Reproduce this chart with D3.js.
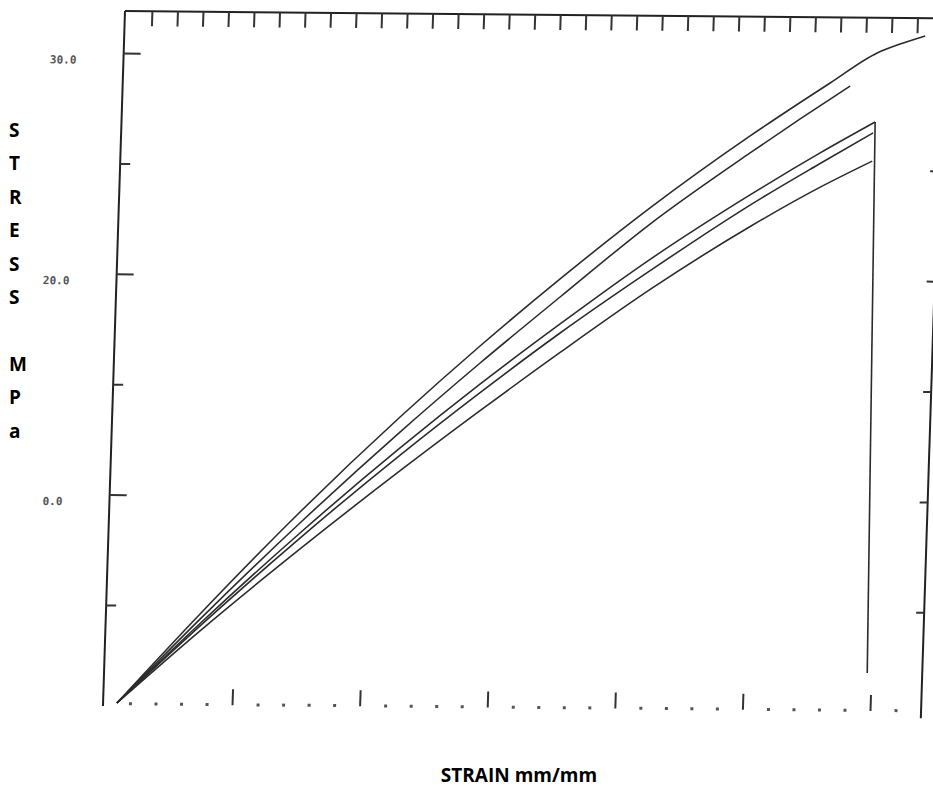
<!DOCTYPE html>
<html>
<head>
<meta charset="utf-8">
<script src="https://cdn.jsdelivr.net/npm/d3@7"></script>
<style>
  body { margin: 0; background: #fff; }
  svg { display: block; }
  .curve { fill: none; stroke: #2b2b2b; stroke-width: 1.6; }
  .frame { fill: none; stroke: #222; stroke-width: 2; }
  .title { font-family: "Open Sans", sans-serif; font-weight: bold; font-size: 19px; fill: #000; }
  .ylab { font-family: "DejaVu Sans Mono", monospace; font-weight: bold; font-size: 11px; fill: #555; }
</style>
</head>
<body>
<svg width="933" height="792"></svg>
<script>
// five stress-strain traces, strain in mm/mm, stress in MPa
var curveA = [[0.00098,0.57],[0.00727,4.63],[0.01485,9.29],[0.02245,13.63],[0.02854,16.88],[0.03465,19.95],
              [0.04152,23.20],[0.04918,26.50],[0.05532,28.93],[0.05893,30.31],[0.06070,30.72],[0.06265,31.10]];
var curveB = [[0.00098,0.57],[0.00728,4.40],[0.01487,8.79],[0.02248,12.95],[0.02859,16.11],[0.03469,19.13],
              [0.04156,22.47],[0.04922,25.73],[0.05306,27.29],[0.05690,28.80]];
var curveC = [[0.00098,0.57],[0.00729,4.20],[0.01490,8.34],[0.02253,12.23],[0.02863,15.15],[0.03476,17.91],
              [0.04165,20.87],[0.04932,23.83],[0.05471,25.76],[0.05894,27.18]];
var curveD = [[0.00098,0.57],[0.00730,4.09],[0.01491,8.11],[0.02255,11.91],[0.02866,14.77],[0.03478,17.50],
              [0.04168,20.36],[0.04935,23.37],[0.05473,25.28],[0.05881,26.69]];
var curveE = [[0.00098,0.57],[0.00731,3.87],[0.01494,7.62],[0.02259,11.20],[0.02870,13.95],[0.03483,16.62],
              [0.04173,19.51],[0.04941,22.40],[0.05480,24.21],[0.05881,25.41]];
var dropLine = [[0.05894,27.18],[0.05969,2.23]];   // pen drop where the lower three break

var majorStrain = [0.01, 0.02, 0.03, 0.04, 0.05, 0.06];
var minorStrain = d3.range(1, 32).map(i => i * 0.002);      // top ticks + bottom dots
var stressTicks = [5, 10, 15, 20, 25, 30];
var labelStress = [30, 20, 10];
var labelText = ["30.0", "20.0", "0.0"];                    // the "1" is missing on the scan
var yTitle = ["S", "T", "R", "E", "S", "S", "", "M", "P", "a"];
var xTitle = "STRAIN mm/mm";

var svg = d3.select("svg");

var x = d3.scaleLinear().domain([0, 0.064]).range([1.4, 818]);
var y = d3.scaleLinear().domain([0, 30]).range([704.4, 42]);

// the scanned sheet is a little sheared, so the whole frame is too
var plot = svg.append("g")
    .attr("transform", "matrix(1,0.009,-0.0317,1,125,11)");

// frame lines
plot.append("path").attr("class", "frame").attr("d", d3.line()([[0, 0], [x(0.064), 0]]));
plot.append("path").attr("class", "frame").attr("d", d3.line()([[0, 0], [0, 695]]));
plot.append("path").attr("class", "frame").attr("d", d3.line()([[x(0.064), 0], [x(0.064), 700]]));

// top ticks hang down
plot.append("g")
    .attr("color", "#333")
    .call(d3.axisBottom(x).tickValues(minorStrain).tickSize(15).tickSizeOuter(0).tickFormat(""))
    .call(g => g.select(".domain").remove())
    .selectAll("line").attr("stroke-width", 2);

// bottom: only short marks and dots, no line
plot.append("g")
    .attr("transform", "translate(0,693)")
    .attr("color", "#333")
    .call(d3.axisTop(x).tickValues(majorStrain).tickSize(16).tickSizeOuter(0).tickFormat(""))
    .call(g => g.select(".domain").remove())
    .selectAll("line").attr("stroke-width", 2);

plot.append("g")
    .attr("transform", "translate(0,694)")
    .attr("color", "#555")
    .call(d3.axisTop(x).tickValues(minorStrain.filter((d, i) => (i + 1) % 5 !== 0)).tickSize(3).tickSizeOuter(0).tickFormat(""))
    .call(g => g.select(".domain").remove())
    .selectAll("line").attr("stroke-width", 3);

// left ticks: long at 10s, short at 5s
plot.append("g")
    .attr("color", "#333")
    .call(d3.axisRight(y).tickValues(stressTicks).tickSizeOuter(0).tickFormat(""))
    .call(g => g.select(".domain").remove())
    .selectAll("line")
      .attr("stroke-width", 2)
      .attr("x2", d => d % 10 === 0 ? 17 : 10);

plot.append("g")
    .attr("transform", "translate(" + x(0.064) + ",0)")
    .attr("color", "#333")
    .call(d3.axisLeft(y).tickValues(stressTicks).tickSize(8).tickSizeOuter(0).tickFormat(""))
    .call(g => g.select(".domain").remove())
    .selectAll("line").attr("stroke-width", 2);

plot.selectAll(".ylab")
  .data(labelStress)
  .join("text")
    .attr("class", "ylab")
    .attr("x", -47)
    .attr("y", d => y(d) + 11)
    .attr("text-anchor", "end")
    .text((d, i) => labelText[i]);

// traces
var line = d3.line()
    .x(d => x(d[0]))
    .y(d => y(d[1]))
    .curve(d3.curveMonotoneX);

plot.selectAll(".curve")
  .data([curveA, curveB, curveC, curveD, curveE])
  .join("path")
    .attr("class", "curve")
    .attr("d", line);

plot.append("path")
    .attr("class", "curve")
    .attr("d", line.curve(d3.curveLinear)(dropLine));

// axis titles
svg.append("g")
  .selectAll("text")
  .data(yTitle)
  .join("text")
    .attr("class", "title")
    .attr("x", 9)
    .attr("y", (d, i) => 137 + i * 33.4)
    .text(d => d);

svg.append("text")
    .attr("class", "title")
    .attr("x", 519)
    .attr("y", 782)
    .attr("text-anchor", "middle")
    .text(xTitle);
</script>
</body>
</html>
